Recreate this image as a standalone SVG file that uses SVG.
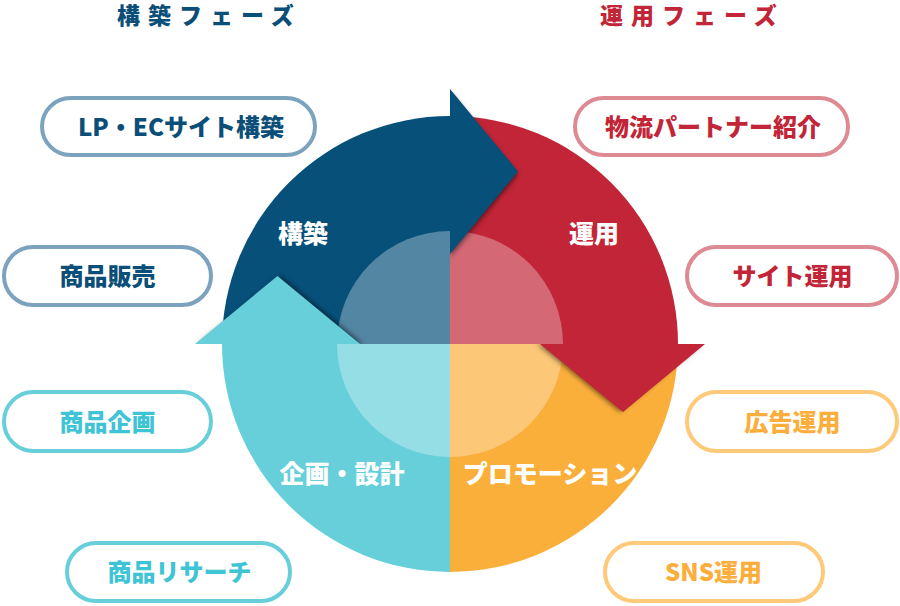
<svg xmlns="http://www.w3.org/2000/svg" width="900" height="606" viewBox="0 0 900 606">
  <style>
    text { font-family: "Noto Sans CJK JP", "Noto Sans", sans-serif; font-weight: 900; }
    .title { font-size: 23px; letter-spacing: 8px; }
    .pill rect { fill: #ffffff; stroke-width: 4; }
    .pill text { font-size: 24px; text-anchor: middle; }
    .b rect { stroke: #7BA3BD; } .b text { fill: #0B4F78; }
    .c rect { stroke: #66CFDA; } .c text { fill: #3EC4D4; }
    .r rect { stroke: #DE8A93; } .r text { fill: #C12537; }
    .o rect { stroke: #FEC978; } .o text { fill: #FBAE3B; }
    .lbl { font-size: 25px; fill: #ffffff; text-anchor: middle; }
    .sh { fill: #000000; fill-opacity: 0.5; filter: url(#blur); }
  </style>
  <defs>
    <filter id="blur" x="-30%" y="-30%" width="160%" height="160%">
      <feGaussianBlur stdDeviation="2.5"/>
    </filter>
    <clipPath id="clipB"><rect x="450" y="0" width="450" height="344"/></clipPath>
    <clipPath id="clipR"><rect x="450" y="344" width="450" height="262"/></clipPath>
    <clipPath id="clipC"><rect x="0" y="0" width="450" height="344"/></clipPath>
  </defs>

  <g id="phase-titles">
    <text class="title" x="117" y="24" fill="#0B4F78">構築フェーズ</text>
    <text class="title" x="600" y="24" fill="#C12537">運用フェーズ</text>
  </g>

  <g id="cycle">
    <path id="q-build" d="M450,344 L222,344 A228,228 0 0 1 450,116 Z" fill="#06507A"/>
    <path id="q-operate" d="M450,344 L450,116 A228,228 0 0 1 678,344 Z" fill="#C12537"/>
    <path id="q-promo" d="M450,344 L678,344 A228,228 0 0 1 450,572 Z" fill="#FBAF3B"/>
    <path id="q-plan" d="M450,344 L450,572 A228,228 0 0 1 222,344 Z" fill="#66CFDA"/>
    <circle id="inner" cx="450" cy="344" r="113" fill="#ffffff" fill-opacity="0.31"/>
    <g clip-path="url(#clipR)"><path class="sh" d="M537,344 L702,344 L620,412 Z"/></g>
    <path id="head-operate" d="M540,344 L705,344 L623,412 Z" fill="#C12537"/>
    <g clip-path="url(#clipB)"><path class="sh" d="M450,92 L518,174.5 L450,257 Z"/></g>
    <path id="head-build" d="M450,89 L518,171.5 L450,254 Z" fill="#06507A"/>
    <g clip-path="url(#clipC)"><path class="sh" d="M198,344 L363,344 L280.5,276 Z"/></g>
    <path id="head-plan" d="M195,344 L360,344 L277.5,276 Z" fill="#66CFDA"/>
    <text class="lbl" x="303" y="243">構築</text>
    <text class="lbl" x="594" y="243">運用</text>
    <text class="lbl" x="342" y="483">企画・設計</text>
    <text class="lbl" x="550" y="483">プロモーション</text>
  </g>

  <g id="nodes">
    <g id="n-lp" class="pill b">
      <rect x="42" y="98" width="273" height="57" rx="28.5"/>
      <text x="181" y="135.5">LP・ECサイト構築</text>
    </g>
    <g id="n-sales" class="pill b">
      <rect x="4" y="247" width="207" height="58" rx="29"/>
      <text x="107.5" y="285">商品販売</text>
    </g>
    <g id="n-plan" class="pill c">
      <rect x="4" y="392" width="207" height="59" rx="29.5"/>
      <text x="107.5" y="430.5">商品企画</text>
    </g>
    <g id="n-research" class="pill c">
      <rect x="67" y="543" width="223" height="58" rx="29"/>
      <text x="179.5" y="581">商品リサーチ</text>
    </g>
    <g id="n-logistics" class="pill r">
      <rect x="575" y="98" width="273" height="57" rx="28.5"/>
      <text x="713" y="135.5">物流パートナー紹介</text>
    </g>
    <g id="n-site" class="pill r">
      <rect x="687" y="247" width="210" height="58" rx="29"/>
      <text x="792.5" y="285">サイト運用</text>
    </g>
    <g id="n-ads" class="pill o">
      <rect x="687" y="392" width="210" height="59" rx="29.5"/>
      <text x="792.5" y="430.5">広告運用</text>
    </g>
    <g id="n-sns" class="pill o">
      <rect x="605" y="543" width="218" height="58" rx="29"/>
      <text x="713.5" y="581">SNS運用</text>
    </g>
  </g>
</svg>
